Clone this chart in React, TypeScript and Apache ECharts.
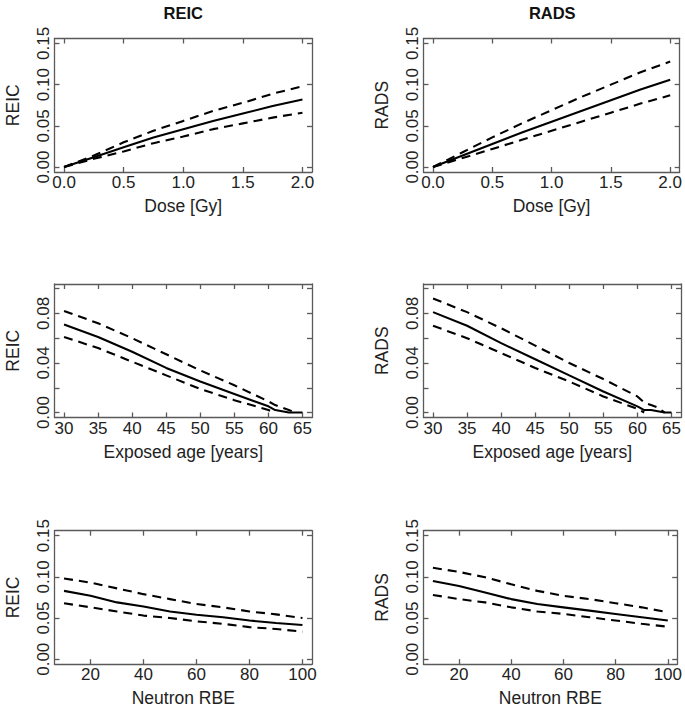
import React, { useEffect, useRef } from 'react';
import * as echarts from 'echarts';

// ---- data ----
const doseX = [0, 0.25, 0.5, 0.75, 1.0, 1.25, 1.5, 1.75, 2.0];
const reicDoseMid = [0, 0.012, 0.024, 0.036, 0.046, 0.056, 0.065, 0.074, 0.082];
const reicDoseUp = [0, 0.014, 0.030, 0.044, 0.056, 0.068, 0.078, 0.089, 0.098];
const reicDoseLo = [0, 0.010, 0.019, 0.029, 0.037, 0.046, 0.053, 0.060, 0.066];
const radsDoseMid = [0, 0.014, 0.028, 0.042, 0.055, 0.068, 0.081, 0.094, 0.106];
const radsDoseUp = [0, 0.018, 0.036, 0.053, 0.069, 0.085, 0.100, 0.115, 0.128];
const radsDoseLo = [0, 0.011, 0.022, 0.033, 0.044, 0.055, 0.066, 0.077, 0.087];

const ageX = [30, 35, 40, 45, 50, 55, 60, 61, 62, 63, 64, 65];
const reicAgeMid = [0.071, 0.061, 0.049, 0.036, 0.025, 0.015, 0.005, 0.002, 0.001, 0.0, 0.0, 0.0];
const reicAgeUp = [0.082, 0.072, 0.060, 0.047, 0.034, 0.022, 0.009, 0.006, 0.004, 0.002, 0.0, null];
const reicAgeLo = [0.061, 0.052, 0.041, 0.030, 0.019, 0.010, 0.002, 0.0, null, null, null, null];
const radsAgeMid = [0.081, 0.070, 0.056, 0.043, 0.030, 0.017, 0.005, 0.002, 0.002, 0.001, 0.0, 0.0];
const radsAgeUp = [0.092, 0.081, 0.068, 0.054, 0.040, 0.027, 0.013, 0.008, 0.006, 0.004, 0.0, null];
const radsAgeLo = [0.070, 0.060, 0.048, 0.036, 0.025, 0.013, 0.003, 0.0, null, null, null, null];

const rbeX = [10, 20, 30, 40, 50, 60, 70, 80, 90, 100];
const reicRbeMid = [0.083, 0.077, 0.069, 0.064, 0.058, 0.054, 0.051, 0.047, 0.044, 0.0415];
const reicRbeUp = [0.098, 0.093, 0.086, 0.079, 0.073, 0.067, 0.063, 0.058, 0.0545, 0.050];
const reicRbeLo = [0.068, 0.063, 0.058, 0.053, 0.050, 0.046, 0.043, 0.039, 0.0367, 0.0335];
const radsRbeMid = [0.095, 0.089, 0.081, 0.073, 0.067, 0.063, 0.059, 0.055, 0.051, 0.047];
const radsRbeUp = [0.111, 0.106, 0.0995, 0.091, 0.083, 0.077, 0.073, 0.068, 0.063, 0.057];
const radsRbeLo = [0.078, 0.073, 0.069, 0.063, 0.058, 0.055, 0.051, 0.047, 0.043, 0.0395];

const doseTicks = [0, 0.5, 1.0, 1.5, 2.0];
const ageTicks = [30, 35, 40, 45, 50, 55, 60, 65];
const rbeTicks = [20, 40, 60, 80, 100];
const riskTicks = [0, 0.05, 0.1, 0.15];
const ageRiskTicks = [0, 0.02, 0.04, 0.06, 0.08, 0.1];
const ageRiskLabels = [0, 0.04, 0.08];

const columnTitles = ['REIC', 'RADS'];
const xTitles = ['Dose [Gy]', 'Exposed age [years]', 'Neutron RBE'];

// ---- layout ----
const FONT = 'Liberation Sans, Arial, Helvetica, sans-serif';
const colLeft = [54.5, 423.5];
const boxW = 257.5;
const rowTop = [38.5, 284, 530.7];
const boxH = 133.5;
const axisColor = '#5a5a5a';
const textColor = '#222';
const TICK_FS = 17;
const NAME_FS = 17.5;

type Def = {
  x: number[];
  xRange: [number, number];
  xTicks: number[];
  xFmt: (v: number) => string;
  yRange: [number, number];
  yTicks: number[];
  yLabels: number[];
};

const pair = (xs: number[], ys: (number | null)[]) => xs.map((x, i) => [x, ys[i]]);

const rows: { xTitle: string; def: Def; cols: (number | null)[][][] }[] = [
  {
    xTitle: xTitles[0],
    def: {
      x: doseX, xRange: [-0.08, 2.08], xTicks: doseTicks, xFmt: (v) => v.toFixed(1),
      yRange: [-0.006, 0.156], yTicks: riskTicks, yLabels: riskTicks,
    },
    cols: [[reicDoseMid, reicDoseUp, reicDoseLo], [radsDoseMid, radsDoseUp, radsDoseLo]],
  },
  {
    xTitle: xTitles[1],
    def: {
      x: ageX, xRange: [28.6, 66.4], xTicks: ageTicks, xFmt: (v) => String(Math.round(v)),
      yRange: [-0.004, 0.1037], yTicks: ageRiskTicks, yLabels: ageRiskLabels,
    },
    cols: [[reicAgeMid, reicAgeUp, reicAgeLo], [radsAgeMid, radsAgeUp, radsAgeLo]],
  },
  {
    xTitle: xTitles[2],
    def: {
      x: rbeX, xRange: [6.4, 103.6], xTicks: rbeTicks, xFmt: (v) => String(Math.round(v)),
      yRange: [-0.006, 0.156], yTicks: riskTicks, yLabels: riskTicks,
    },
    cols: [[reicRbeMid, reicRbeUp, reicRbeLo], [radsRbeMid, radsRbeUp, radsRbeLo]],
  },
];

function buildOption() {
  const grid: any[] = [];
  const xAxis: any[] = [];
  const yAxis: any[] = [];
  const series: any[] = [];
  const graphic: any[] = [];

  const lineAx = { show: true, onZero: false, lineStyle: { color: axisColor, width: 1.3 } };
  const tickStyle = { color: axisColor, width: 1.3 };

  rows.forEach((row, r) => {
    row.cols.forEach((lines, c) => {
      const gi = grid.length;
      grid.push({ left: colLeft[c], top: rowTop[r], width: boxW, height: boxH, containLabel: false });
      const d = row.def;
      xAxis.push({
        type: 'value', gridIndex: gi, position: 'bottom', min: d.xRange[0], max: d.xRange[1],
        axisLine: lineAx,
        axisTick: { show: true, inside: true, length: 5, customValues: d.xTicks, lineStyle: tickStyle },
        axisLabel: {
          show: true, customValues: d.xTicks, formatter: (v: number) => d.xFmt(v),
          margin: 2, fontSize: TICK_FS, fontFamily: FONT, color: textColor,
        },
        splitLine: { show: false },
        name: row.xTitle, nameLocation: 'middle', nameGap: 25,
        nameTextStyle: { fontSize: NAME_FS, fontFamily: FONT, color: textColor },
      });
      xAxis.push({
        type: 'value', gridIndex: gi, position: 'top', min: d.xRange[0], max: d.xRange[1],
        axisLine: lineAx,
        axisTick: { show: true, inside: true, length: 5, customValues: d.xTicks, lineStyle: tickStyle },
        axisLabel: { show: false },
        splitLine: { show: false },
      });
      yAxis.push({
        type: 'value', gridIndex: gi, position: 'left', min: d.yRange[0], max: d.yRange[1],
        axisLine: lineAx,
        axisTick: { show: true, inside: true, length: 5, customValues: d.yTicks, lineStyle: tickStyle },
        axisLabel: {
          show: true, customValues: d.yLabels, formatter: (v: number) => v.toFixed(2), rotate: 90,
          margin: 3, fontSize: TICK_FS, fontFamily: FONT, color: textColor,
        },
        splitLine: { show: false },
        name: columnTitles[c], nameLocation: 'middle', nameGap: 33, nameRotate: 90,
        nameTextStyle: { fontSize: NAME_FS, fontFamily: FONT, color: textColor },
      });
      yAxis.push({
        type: 'value', gridIndex: gi, position: 'right', min: d.yRange[0], max: d.yRange[1],
        axisLine: lineAx,
        axisTick: { show: true, inside: true, length: 5, customValues: d.yTicks, lineStyle: tickStyle },
        axisLabel: { show: false },
        splitLine: { show: false },
      });

      const styles = ['solid', [9, 6], [9, 6]];
      lines.forEach((ys, k) => {
        series.push({
          type: 'line',
          xAxisIndex: gi * 2,
          yAxisIndex: gi * 2,
          data: pair(d.x, ys),
          showSymbol: false,
          symbol: 'none',
          connectNulls: false,
          silent: true,
          lineStyle: { color: '#000', width: 2.1, type: styles[k] },
        });
      });
    });
  });

  columnTitles.forEach((t, c) => {
    graphic.push({
      type: 'text',
      x: colLeft[c] + boxW / 2,
      y: 12.5,
      style: {
        text: t, fill: '#111', font: `bold 16.5px ${FONT}`,
        textAlign: 'center', textVerticalAlign: 'middle',
      },
    });
  });

  return {
    animation: false,
    backgroundColor: '#fff',
    grid, xAxis, yAxis, series, graphic,
  };
}

export default function App() {
  const ref = useRef<HTMLDivElement>(null);
  useEffect(() => {
    if (!ref.current) return;
    const chart = echarts.init(ref.current, undefined, { renderer: 'svg' });
    chart.setOption(buildOption() as any);
    return () => chart.dispose();
  }, []);
  return (
    <div
      ref={ref}
      style={{ position: 'fixed', left: 0, top: 0, width: 685, height: 713, background: '#fff' }}
    />
  );
}
